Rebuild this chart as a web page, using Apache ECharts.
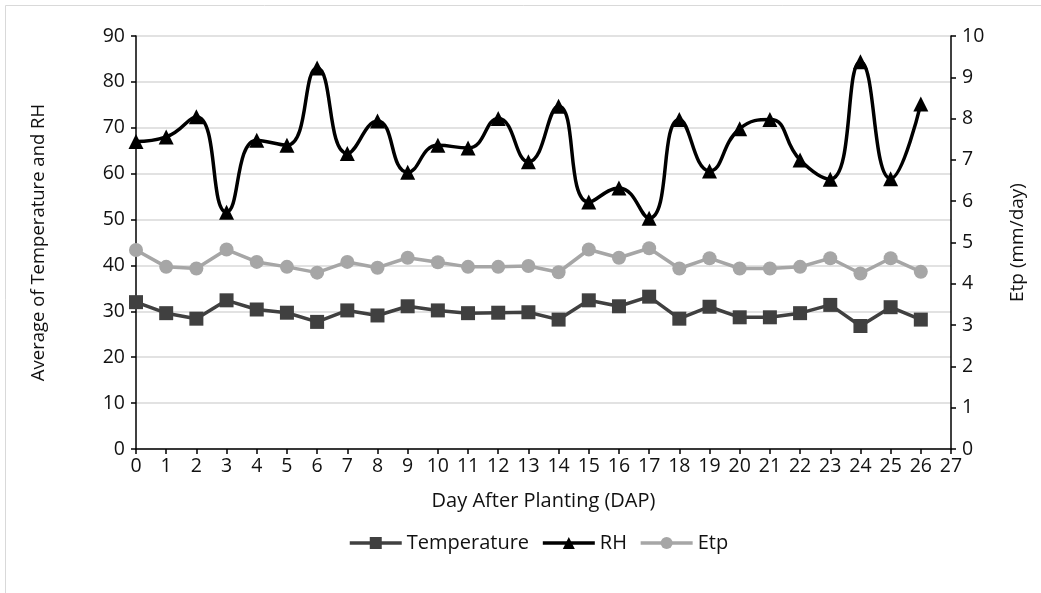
<!DOCTYPE html>
<html>
<head>
<meta charset="utf-8">
<script src="https://cdn.jsdelivr.net/npm/echarts@6/dist/echarts.min.js"></script>
<style>
html,body{margin:0;padding:0;background:#fff;}
#chart{width:1041px;height:593px;}
</style>
</head>
<body>
<div id="chart"></div>
<script>
const days = ['0','1','2','3','4','5','6','7','8','9','10','11','12','13','14','15','16','17','18','19','20','21','22','23','24','25','26','27'];
const temperature = [32.0,29.6,28.4,32.4,30.4,29.7,27.7,30.2,29.1,31.1,30.2,29.6,29.7,29.8,28.2,32.4,31.1,33.2,28.4,31.0,28.7,28.7,29.6,31.4,26.8,30.9,28.2];
const rh = [67.0,68.0,72.4,51.6,67.3,66.2,83.0,64.4,71.5,60.3,66.2,65.6,72.0,62.6,74.7,53.8,56.9,50.3,71.8,60.6,69.8,71.8,63.0,58.8,84.4,58.9,75.2];
const etp = [4.82,4.41,4.37,4.83,4.53,4.41,4.27,4.53,4.39,4.63,4.52,4.41,4.41,4.43,4.28,4.83,4.63,4.86,4.37,4.62,4.37,4.37,4.41,4.62,4.25,4.62,4.29];
const leftTicks = {min:0,max:90,interval:10};
const rightTicks = {min:0,max:10,interval:1};

const FONT = 'Open Sans';
const TXT = '#111';
const chart = echarts.init(document.getElementById('chart'), null, {renderer:'canvas'});
chart.setOption({
  backgroundColor:'#fff',
  animation:false,
  graphic:[{type:'rect',shape:{x:5.5,y:5.5,width:1100,height:700},style:{fill:'none',stroke:'#d9d9d9',lineWidth:1},silent:true,z:-1}],
  grid:{left:136,right:90,top:36,bottom:144,containLabel:false},
  legend:{
    top:528,left:343,
    itemWidth:52,itemHeight:15,itemGap:12,
    lineStyle:{width:3.5},
    textStyle:{fontFamily:FONT,fontSize:20,color:TXT},
    data:['Temperature','RH','Etp']
  },
  xAxis:{
    type:'category',data:days,boundaryGap:false,
    name:'Day After Planting (DAP)',nameLocation:'middle',nameGap:42,
    nameTextStyle:{fontFamily:FONT,fontSize:20,color:TXT},
    axisLine:{lineStyle:{color:'#000',width:1.5}},
    axisTick:{show:true,inside:false,length:5,interval:0,lineStyle:{color:'#000',width:1.5}},
    axisLabel:{interval:0,fontFamily:FONT,fontSize:19.5,color:TXT,margin:7},
    splitLine:{show:false}
  },
  yAxis:[{
    type:'value',min:leftTicks.min,max:leftTicks.max,interval:leftTicks.interval,position:'left',
    name:'Average of Temperature and RH',nameLocation:'middle',nameGap:88,nameRotate:90,
    nameTextStyle:{fontFamily:FONT,fontSize:18.5,color:TXT},
    axisLine:{show:true,lineStyle:{color:'#000',width:1.5}},
    axisTick:{show:true,inside:false,length:5,lineStyle:{color:'#000',width:1.5}},
    axisLabel:{fontFamily:FONT,fontSize:19.5,color:TXT,margin:11},
    splitLine:{show:true,lineStyle:{color:'#d9d9d9',width:1.5}}
  },{
    type:'value',min:rightTicks.min,max:rightTicks.max,interval:rightTicks.interval,position:'right',
    name:'Etp (mm/day)',nameLocation:'middle',nameGap:57,nameRotate:90,
    nameTextStyle:{fontFamily:FONT,fontSize:19,color:TXT},
    axisLine:{show:true,lineStyle:{color:'#000',width:1.5}},
    axisTick:{show:true,inside:false,length:5,lineStyle:{color:'#000',width:1.5}},
    axisLabel:{fontFamily:FONT,fontSize:19.5,color:TXT,margin:11},
    splitLine:{show:false}
  }],
  series:[{
    name:'Temperature',type:'line',data:temperature,yAxisIndex:0,
    symbol:'rect',symbolSize:14,
    lineStyle:{color:'#404040',width:3.5},itemStyle:{color:'#404040'},z:3
  },{
    name:'RH',type:'line',data:rh,yAxisIndex:0,smooth:0.5,
    symbol:'triangle',symbolSize:15,
    lineStyle:{color:'#000',width:3.5},itemStyle:{color:'#000'},z:4
  },{
    name:'Etp',type:'line',data:etp,yAxisIndex:1,
    symbol:'circle',symbolSize:14,
    lineStyle:{color:'#a6a6a6',width:3.5},itemStyle:{color:'#a6a6a6'},z:2
  }]
});
</script>
</body>
</html>
